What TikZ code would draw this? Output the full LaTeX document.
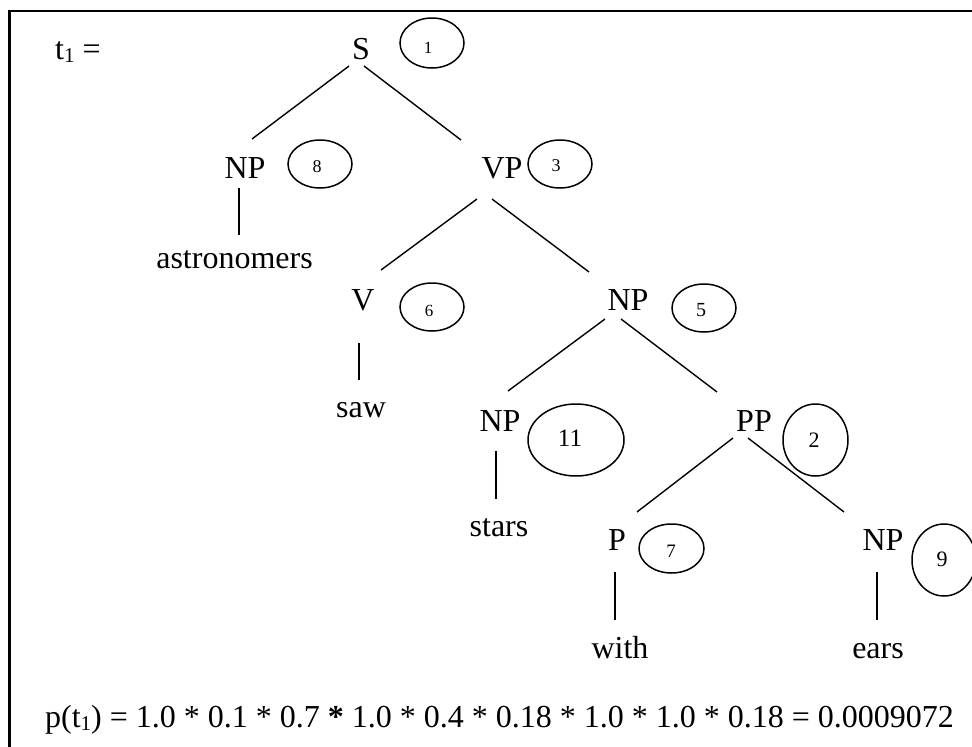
\documentclass[tikz,border=0pt]{standalone}
\usepackage{fontspec}
\setmainfont{Liberation Serif}
\usetikzlibrary{shapes.geometric}
\newcommand{\subone}{\raisebox{-3pt}{\fontsize{21}{21}\selectfont 1}}
\begin{document}
\begin{tikzpicture}[x=1pt,y=-1pt,
  lab/.style={anchor=base, inner sep=0pt, font=\fontsize{32}{38}\selectfont},
  ell/.style={draw, ellipse, line width=1.5pt, inner sep=0pt},
  num/.style={inner sep=0pt},
  edge/.style={line width=1.4pt},
  frame/.style={line width=2.2pt}]
\useasboundingbox (0,0) rectangle (972,747);
\draw[frame] (9.5,11) rectangle (1100,900);

% labels
\node[lab, anchor=base west] (t1) at (55,59) {t\subone{} =};
\node[lab] (S) at (361,59) {S};
\node[lab] (NPa) at (245,178) {NP};
\node[lab] (VP) at (502,178) {VP};
\node[lab] (astro) at (234.5,268) {astronomers};
\node[lab] (V) at (363,310) {V};
\node[lab] (NPb) at (628,310) {NP};
\node[lab] (saw) at (361,417) {saw};
\node[lab] (NPc) at (500,431) {NP};
\node[lab] (PP) at (754,431) {PP};
\node[lab] (stars) at (499,536) {stars};
\node[lab] (P) at (617,550) {P};
\node[lab] (NPd) at (883,550) {NP};
\node[lab] (with) at (620,658) {with};
\node[lab] (ears) at (878,658) {ears};

% ellipses
\node[ell, minimum width=64pt, minimum height=50pt] (e1) at (432,43) {};
\node[ell, minimum width=64pt, minimum height=48pt] (e8) at (320,164) {};
\node[ell, minimum width=64pt, minimum height=48pt] (e3) at (560,164) {};
\node[ell, minimum width=64pt, minimum height=48pt] (e6) at (432,307) {};
\node[ell, minimum width=64pt, minimum height=48pt] (e5) at (704,308) {};
\node[ell, minimum width=96pt, minimum height=72pt] (e11) at (576,440) {};
\node[ell, minimum width=65pt, minimum height=72pt] (e2) at (815.5,440) {};
\node[ell, minimum width=65pt, minimum height=49pt] (e7) at (671.5,548.5) {};
\node[ell, minimum width=64pt, minimum height=72pt] (e9) at (944,560) {};

\node[num, font=\fontsize{17}{17}\selectfont] (n1) at (428,47.5) {1};
\node[num, font=\fontsize{18}{18}\selectfont] (n8) at (317,167) {8};
\node[num, font=\fontsize{18}{18}\selectfont] (n3) at (556,166) {3};
\node[num, font=\fontsize{17}{17}\selectfont] (n6) at (429,311) {6};
\node[num, font=\fontsize{20}{20}\selectfont] (n5) at (701,310) {5};
\node[num, font=\fontsize{25}{25}\selectfont] (n11) at (570,438.5) {11};
\node[num, font=\fontsize{22}{22}\selectfont] (n2) at (814,440) {2};
\node[num, font=\fontsize{19}{19}\selectfont] (n7) at (671,551.5) {7};
\node[num, font=\fontsize{22}{22}\selectfont] (n9) at (942,559.5) {9};

% edges
\draw[edge] ([shift={(-12,7)}]S.base) -- ([shift={(7,-39)}]NPa.base);
\draw[edge] ([shift={(3,7)}]S.base) -- ([shift={(-41,-38)}]VP.base);
\draw[edge] ([shift={(-6,10)}]NPa.base) -- ([shift={(4.5,-33)}]astro.base);
\draw[edge] ([shift={(-25,21)}]VP.base) -- ([shift={(18,-40)}]V.base);
\draw[edge] ([shift={(-10,21)}]VP.base) -- ([shift={(-39,-38)}]NPb.base);
\draw[edge] ([shift={(-4,33)}]V.base) -- ([shift={(-2,-37)}]saw.base);
\draw[edge] ([shift={(-23,9)}]NPb.base) -- ([shift={(8,-40)}]NPc.base);
\draw[edge] ([shift={(-7,9)}]NPb.base) -- ([shift={(-37,-39)}]PP.base);
\draw[edge] ([shift={(-4,20)}]NPc.base) -- ([shift={(-3,-37)}]stars.base);
\draw[edge] ([shift={(-21,7)}]PP.base) -- ([shift={(20,-38)}]P.base);
\draw[edge] ([shift={(-6,7)}]PP.base) -- ([shift={(-39,-38)}]NPd.base);
\draw[edge] ([shift={(-2,22)}]P.base) -- ([shift={(-5,-38)}]with.base);
\draw[edge] ([shift={(-6,22)}]NPd.base) -- ([shift={(-1,-38)}]ears.base);

% formula
\node[lab, anchor=base west] (formula) at (45,727) {p(t\subone) = 1.0 * 0.1 * 0.7 \textbf{*} 1.0 * 0.4 * 0.18 * 1.0 * 1.0 * 0.18 = 0.0009072};
\end{tikzpicture}
\end{document}
